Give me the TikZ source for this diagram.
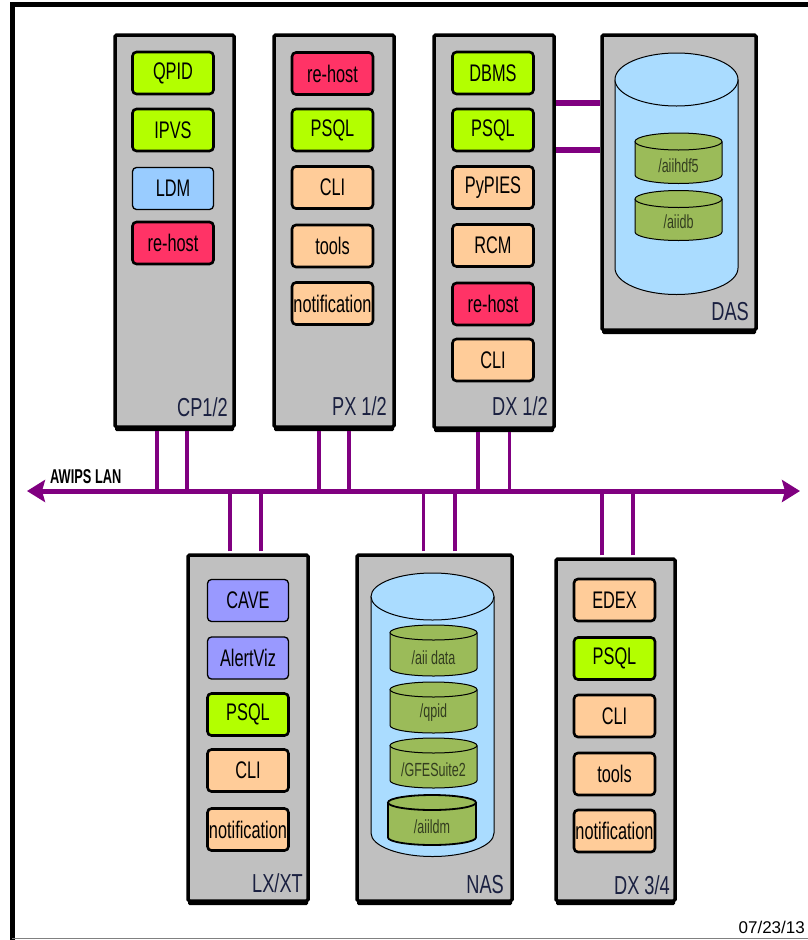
\documentclass[tikz,border=0pt]{standalone}
\usepackage{fontspec}
\setmainfont{Liberation Sans}
\newfontfamily\nar[FakeStretch=0.68]{Liberation Sans}
\newfontfamily\narm[FakeStretch=0.7]{Liberation Sans}
\newfontfamily\narc[FakeStretch=0.66]{Liberation Sans}
\newfontfamily\narb[FakeStretch=0.64]{Liberation Sans}
\usetikzlibrary{arrows.meta,shadows}
\definecolor{cGray}{HTML}{C0C0C0}
\definecolor{cLime}{HTML}{B3FF00}
\definecolor{cRed}{HTML}{FF3366}
\definecolor{cPeach}{HTML}{FFCC99}
\definecolor{cSky}{HTML}{99CCFF}
\definecolor{cViolet}{HTML}{9999FF}
\definecolor{cCyl}{HTML}{AADCFF}
\definecolor{cOlive}{HTML}{9BBB59}
\definecolor{cPurple}{HTML}{800080}
\definecolor{cNavy}{HTML}{1A2040}
\definecolor{cOliveText}{HTML}{333D1F}
\newcommand\mycyl[7]{%
  \pgfmathsetmacro\cylcx{(#1+#2)/2}%
  \pgfmathsetmacro\cylrx{(#2-#1)/2}%
  \pgfmathsetmacro\cylkx{0.5523*\cylrx}%
  \pgfmathsetmacro\cylky{0.5523*#5}%
  \pgfmathsetmacro\cylyb{#4+#5}%
  \fill[#6] (#1,#3) -- (#1,#4) .. controls (#1,#4+\cylky) and (\cylcx-\cylkx,\cylyb) .. (\cylcx,\cylyb) .. controls (\cylcx+\cylkx,\cylyb) and (#2,#4+\cylky) .. (#2,#4) -- (#2,#3) -- cycle;
  \draw[line width=#7] (#1,#3) -- (#1,#4) .. controls (#1,#4+\cylky) and (\cylcx-\cylkx,\cylyb) .. (\cylcx,\cylyb) .. controls (\cylcx+\cylkx,\cylyb) and (#2,#4+\cylky) .. (#2,#4) -- (#2,#3);
  \draw[fill=#6, line width=#7] (\cylcx,#3) ellipse [x radius=\cylrx, y radius=#5];
}
\tikzset{
  machine/.style={draw=black, line width=3.5pt, fill=cGray, rounded corners=1.5pt, inner sep=0pt,
    drop shadow={shadow xshift=0pt, shadow yshift=-4pt, fill=black, opacity=1}},
  svc/.style={draw=black, line width=2.6pt, rounded corners=4pt, minimum width=81pt, minimum height=42pt,
    inner sep=0pt, font=\nar\fontsize{24}{24}\selectfont, text=black},
  thinsvc/.style={svc, line width=1.3pt},
  mlabel/.style={anchor=base east, font=\narm\fontsize{26}{26}\selectfont, text=cNavy, inner sep=0pt},
  cyltext/.style={font=\narc\fontsize{19}{19}\selectfont, text=cOliveText, inner sep=0pt},
  link/.style={draw=cPurple, line width=3.5pt},
  dlink/.style={draw=cPurple, line width=5.5pt},
  lan/.style={draw=cPurple, line width=5pt,
    {Stealth[length=18pt,width=22pt,inset=3pt]}-{Stealth[length=18pt,width=22pt,inset=3pt]}},
}
\begin{document}
\begin{tikzpicture}[x=1pt,y=-1pt]
\useasboundingbox (0,0) rectangle (808,940);
\fill[white] (0,0) rectangle (808,940);
% outer frame
\draw[line width=5pt] (12,940) -- (12,4.5) -- (808,4.5);
\draw[gray, line width=1.5pt] (12,938.5) -- (808,938.5);

% machines
\node[machine, minimum width=119pt, minimum height=392pt] (cp) at (174.5,231) {};
\node[machine, minimum width=120pt, minimum height=392pt] (px) at (334,231) {};
\node[machine, minimum width=120pt, minimum height=393pt] (dx) at (494,231.5) {};
\node[machine, minimum width=154pt, minimum height=295pt] (das) at (679,182.5) {};
\node[machine, minimum width=120pt, minimum height=346pt] (lx) at (248,728) {};
\node[machine, minimum width=155pt, minimum height=346pt] (nas) at (434.5,728) {};
\node[machine, minimum width=119pt, minimum height=342pt] (dxb) at (615.5,730) {};

% machine labels
\node[mlabel] (cpl) at (228,416) {CP1/2};
\node[mlabel] (pxl) at (387,415) {PX 1/2};
\node[mlabel] (dxl) at (548,415) {DX 1/2};
\node[mlabel] (dasl) at (749,320) {DAS};
\node[mlabel] (lxl) at (303,892) {LX/XT};
\node[mlabel] (nasl) at (504,893) {NAS};
\node[mlabel] (dxbl) at (670,894) {DX 3/4};

% CP1/2 services
\node[svc, fill=cLime] (cp1) at (173,73) {QPID};
\node[svc, fill=cLime] (cp2) at (173,130) {IPVS};
\node[thinsvc, fill=cSky] (cp3) at (173,188.5) {LDM};
\node[svc, fill=cRed] (cp4) at (173,243) {re-host};

% PX1/2 services
\node[svc, fill=cRed] (px1) at (332.5,73.5) {re-host};
\node[svc, fill=cLime] (px2) at (332.5,130) {PSQL};
\node[svc, fill=cPeach] (px3) at (332.5,187.5) {CLI};
\node[svc, fill=cPeach] (px4) at (332.5,246) {tools};
\node[svc, fill=cPeach] (px5) at (332.5,303.5) {notification};

% DX1/2 services
\node[svc, fill=cLime] (dx1) at (493,73) {DBMS};
\node[svc, fill=cLime] (dx2) at (493,130) {PSQL};
\node[svc, fill=cPeach] (dx3) at (493,187.5) {PyPIES};
\node[svc, fill=cPeach] (dx4) at (493,245.5) {RCM};
\node[svc, fill=cRed] (dx5) at (493,304) {re-host};
\node[svc, fill=cPeach] (dx6) at (493,360) {CLI};

% LX/XT services
\node[thinsvc, fill=cViolet] (lx1) at (248,600.5) {CAVE};
\node[thinsvc, fill=cViolet] (lx2) at (248,658) {AlertViz};
\node[svc, fill=cLime] (lx3) at (248,714.5) {PSQL};
\node[svc, fill=cPeach] (lx4) at (248,770.5) {CLI};
\node[svc, fill=cPeach] (lx5) at (248,829.5) {notification};

% DX3/4 services
\node[svc, fill=cPeach] (dxb1) at (614.5,600) {EDEX};
\node[svc, fill=cLime] (dxb2) at (614.5,658.5) {PSQL};
\node[svc, fill=cPeach] (dxb3) at (614.5,716) {CLI};
\node[svc, fill=cPeach] (dxb4) at (614.5,774) {tools};
\node[svc, fill=cPeach] (dxb5) at (614.5,831) {notification};

% DAS storage
\mycyl{615}{738}{79.5}{268}{26.5}{cCyl}{1pt}
\mycyl{635}{722}{141.5}{175}{8.5}{cOlive}{1pt}
\node[cyltext] (das1) at (678.5,166) {/aiihdf5};
\mycyl{635}{722}{199}{232}{8.5}{cOlive}{1pt}
\node[cyltext] (das2) at (678.5,222) {/aiidb};

% NAS storage
\mycyl{371}{494}{596.5}{833}{23.5}{cCyl}{1pt}
\mycyl{390}{477}{632.5}{668.5}{7.5}{cOlive}{1pt}
\node[cyltext] (nas1) at (433.5,658) {/aii data};
\mycyl{390}{477}{689.5}{725.5}{7.5}{cOlive}{1pt}
\node[cyltext] (nas2) at (433.5,713) {/qpid};
\mycyl{390}{477}{745.5}{780.5}{7.5}{cOlive}{1pt}
\node[cyltext] (nas3) at (433.5,770) {/GFESuite2};
\mycyl{388}{476}{802.5}{837.5}{7.5}{cOlive}{1.8pt}
\node[cyltext] (nas4) at (432,827) {/aiildm};

% LAN attachment points
\coordinate (lanL) at (27,491);
\coordinate (lanR) at (800,491);
\coordinate (cpA) at (157,491);
\coordinate (cpB) at (187,491);
\coordinate (pxA) at (319,491);
\coordinate (pxB) at (349,491);
\coordinate (dxA) at (478,491);
\coordinate (dxB) at (509.5,491);
\coordinate (lxA) at (230,491);
\coordinate (lxB) at (261,491);
\coordinate (nasA) at (423.5,491);
\coordinate (nasB) at (455,491);
\coordinate (dxbA) at (602,491);
\coordinate (dxbB) at (633,491);
\coordinate (dl1) at (0,103);
\coordinate (dl2) at (0,150);

% links
\draw[link, shorten <=2pt] (cp.south -| cpA) -- (cpA);
\draw[link, shorten <=2pt] (cp.south -| cpB) -- (cpB);
\draw[link, shorten <=2pt] (px.south -| pxA) -- (pxA);
\draw[link, shorten <=2pt] (px.south -| pxB) -- (pxB);
\draw[link, shorten <=2pt] (dx.south -| dxA) -- (dxA);
\draw[link, shorten <=2pt] (dx.south -| dxB) -- (dxB);
\draw[link, shorten <=2pt] (lx.north -| lxA) -- (lxA);
\draw[link, shorten <=2pt] (lx.north -| lxB) -- (lxB);
\draw[link, shorten <=2pt] (nas.north -| nasA) -- (nasA);
\draw[link, shorten <=2pt] (nas.north -| nasB) -- (nasB);
\draw[link, shorten <=2pt] (dxb.north -| dxbA) -- (dxbA);
\draw[link, shorten <=2pt] (dxb.north -| dxbB) -- (dxbB);
\draw[dlink] (dx.east |- dl1) -- (das.west |- dl1);
\draw[dlink] (dx.east |- dl2) -- (das.west |- dl2);
\draw[lan] (lanL) -- (lanR);

\node[anchor=base west, inner sep=0pt, font=\narb\bfseries\fontsize{20}{20}\selectfont] (lanlabel) at (50,483) {AWIPS LAN};
\node[anchor=base east, inner sep=0pt, font=\fontsize{17}{17}\selectfont] (date) at (805,933) {07/23/13};
\end{tikzpicture}
\end{document}
